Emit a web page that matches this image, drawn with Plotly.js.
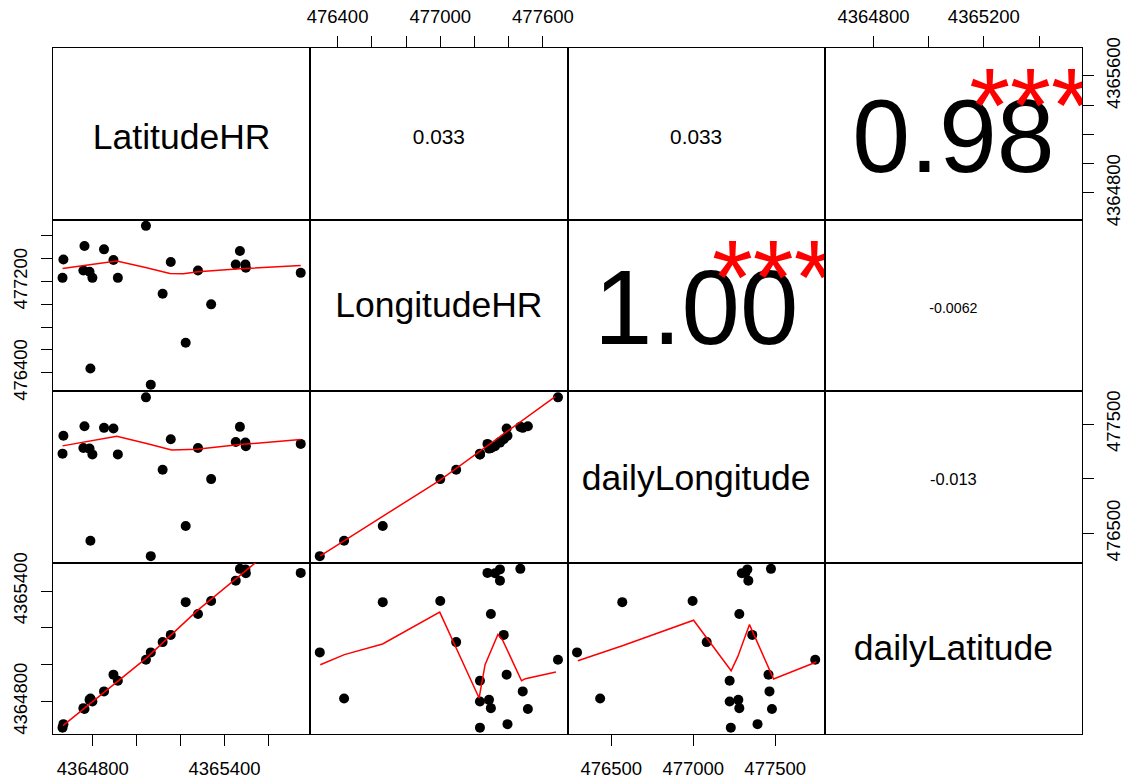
<!DOCTYPE html>
<html>
<head>
<meta charset="utf-8">
<script src="https://cdn.plot.ly/plotly-3.0.1.min.js"></script>
<style>html,body{margin:0;padding:0;background:#fff;}#chart{width:1129px;height:782px;}</style>
</head>
<body>
<div id="chart"></div>
<script>
// ---- data ----
const varNames = ['LatitudeHR', 'LongitudeHR', 'dailyLongitude', 'dailyLatitude'];

const latitudeHR = [4364662, 4364666, 4364757, 4364762, 4364785, 4364789, 4364798, 4364851, 4364894, 4364914, 4365042,
                    4365064, 4365118, 4365155, 4365223, 4365279, 4365339, 4365451, 4365470, 4365495, 4365497, 4365747];
const longitudeHR = [477232, 477393, 477296, 477512, 477285, 476438, 477232, 477482, 477388, 477232, 477688,
                     476296, 477093, 477371, 476664, 477296, 477000, 477349, 477468, 477349, 477320, 477276];
const dailyLongitude = [477229, 477392, 477281, 477480, 477275, 476432, 477222, 477465, 477459, 477222, 477744,
                        476291, 477082, 477360, 476567, 477281, 476996, 477336, 477474, 477330, 477296, 477318];
const dailyLatitude = [4364658, 4364677, 4364764, 4364759, 4364809, 4364816, 4364800, 4364855, 4364946, 4364913, 4365027,
                       4365067, 4365123, 4365162, 4365340, 4365276, 4365346, 4365457, 4365521, 4365518, 4365497, 4365499];

// smoother (red) lines, vertices
const smoothLatHR_LongHR_x = [4364662, 4364909, 4365045, 4365151, 4365212, 4365279, 4365470, 4365747];
const smoothLatHR_LongHR_y = [477314, 477379, 477320, 477270, 477268, 477285, 477311, 477341];
const smoothLatHR_dLong_x = [4364662, 4364909, 4365045, 4365159, 4365273, 4365470, 4365747];
const smoothLatHR_dLong_y = [477300, 477388, 477321, 477263, 477268, 477312, 477358];
const smoothLatHR_dLat_x = [4364664, 4365045, 4365273, 4365542, 4365747];
const smoothLatHR_dLat_y = [4364669, 4365037, 4365291, 4365555, 4365757];
const smoothLongHR_dLong_x = [476299, 476995, 477672];
const smoothLongHR_dLong_y = [476294, 476983, 477750];
const smoothLongHR_dLat_x = [476299, 476440, 476663, 476997, 477227, 477262, 477337, 477366, 477475, 477498, 477676];
const smoothLongHR_dLat_y = [4365000, 4365055, 4365113, 4365286, 4364819, 4365000, 4365164, 4365131, 4364913, 4364924, 4364960];
const smoothDLong_dLat_x = [476296, 476572, 477002, 477231, 477272, 477343, 477490, 477751];
const smoothDLong_dLat_y = [4365022, 4365104, 4365242, 4364967, 4365045, 4365218, 4364922, 4365015];

// correlation panel texts
const corrRows = [0, 0, 0, 1, 1, 2];
const corrCols = [1, 2, 3, 2, 3, 3];
const corrLabels = ['0.033', '0.033', '0.98', '1.00', '-0.0062', '-0.013'];
const corrStars = ['', '', '***', '***', '', ''];

// tick values and labels
const latHRTicks = [4364800, 4365000, 4365200, 4365400, 4365600];
const latHRBottomLabels = ['4364800', '', '', '4365400', ''];
const latHRRightLabels = ['4364800', '', '', '', '4365600'];
const longHRTicks = [476400, 476600, 476800, 477000, 477200, 477400, 477600];
const longHRTopLabels = ['476400', '', '', '477000', '', '', '477600'];
const longHRLeftLabels = ['476400', '', '', '', '477200', '', ''];
const dLongTicks = [476500, 477000, 477500];
const dLongBottomLabels = ['476500', '477000', '477500'];
const dLongRightLabels = ['476500', '', '477500'];
const dLatTicks = [4364800, 4365000, 4365200, 4365400, 4365600];
const dLatTopLabels = ['4364800', '', '4365200', '', ''];
const dLatLeftLabels = ['4364800', '', '', '4365400', ''];

// ---- styles ----
const FONT = 'Liberation Sans, Arial, Helvetica, sans-serif';
const TICKFONT = {family: FONT, size: 18.5, color: '#000'};
const LABEL_SIZE = 35.5;
const LABEL_NUDGE = [6, 3, 4, 3];           // px downward shift of diagonal labels
const CORR_SIZES = [20.8, 20.8, 104, 105, 14.2, 16.5];
const CORR_NUDGE = [5, 5, 12, 12, 4, 4];     // px downward shift of correlation texts
const STAR_SIZE = 105;
const STAR_FX = 0.8, STAR_FY = 0.635, STAR_NUDGE = [5, 6];
const PANEL_H = (782 - 48 - 48) / 4;

const series = [latitudeHR, longitudeHR, dailyLongitude, dailyLatitude];
const ranges = series.map(v => {
  const lo = Math.min(...v), hi = Math.max(...v), d = hi - lo;
  return [lo - 0.04 * d, hi + 0.04 * d];
});
const frac = (k, f) => ranges[k][0] + f * (ranges[k][1] - ranges[k][0]);
const fracY = (k, f, nudgePx) => frac(k, f - nudgePx / PANEL_H);

const smooths = {
  '1-0': [smoothLatHR_LongHR_x, smoothLatHR_LongHR_y],
  '2-0': [smoothLatHR_dLong_x, smoothLatHR_dLong_y],
  '3-0': [smoothLatHR_dLat_x, smoothLatHR_dLat_y],
  '2-1': [smoothLongHR_dLong_x, smoothLongHR_dLong_y],
  '3-1': [smoothLongHR_dLat_x, smoothLongHR_dLat_y],
  '3-2': [smoothDLong_dLat_x, smoothDLong_dLat_y]
};

// which cells carry tick marks / labels
const xTickCfg = {
  '3-0': {side: 'bottom', vals: latHRTicks, text: latHRBottomLabels, standoff: 7},
  '3-2': {side: 'bottom', vals: dLongTicks, text: dLongBottomLabels, standoff: 7},
  '0-1': {side: 'top', vals: longHRTicks, text: longHRTopLabels, standoff: 6},
  '0-3': {side: 'top', vals: dLatTicks, text: dLatTopLabels, standoff: 6}
};
const yTickCfg = {
  '1-0': {side: 'left', vals: longHRTicks, text: longHRLeftLabels, standoff: 7},
  '3-0': {side: 'left', vals: dLatTicks, text: dLatLeftLabels, standoff: 7},
  '0-3': {side: 'right', vals: latHRTicks, text: latHRRightLabels, standoff: 4},
  '2-3': {side: 'right', vals: dLongTicks, text: dLongRightLabels, standoff: 4}
};

const traces = [];
const layout = {
  width: 1129, height: 782,
  margin: {l: 53, r: 47, t: 48, b: 48, pad: 0},
  paper_bgcolor: '#fff', plot_bgcolor: '#fff',
  showlegend: false,
  font: {family: FONT, color: '#000'}
};

for (let r = 0; r < 4; r++) {
  for (let c = 0; c < 4; c++) {
    const idx = r * 4 + c + 1;
    const sx = idx === 1 ? '' : String(idx);
    const xa = 'x' + sx, ya = 'y' + sx;
    const key = r + '-' + c;
    const xAx = {
      domain: [c / 4, (c + 1) / 4], range: ranges[c], anchor: ya,
      showline: true, mirror: true, linecolor: '#000', linewidth: 1,
      showgrid: false, zeroline: false, showticklabels: false, ticks: '', fixedrange: true
    };
    const yAx = {
      domain: [1 - (r + 1) / 4, 1 - r / 4], range: ranges[r], anchor: xa,
      showline: true, mirror: true, linecolor: '#000', linewidth: 1,
      showgrid: false, zeroline: false, showticklabels: false, ticks: '', fixedrange: true
    };
    if (xTickCfg[key]) {
      const t = xTickCfg[key];
      Object.assign(xAx, {side: t.side, tickmode: 'array', tickvals: t.vals, ticktext: t.text,
        ticks: 'outside', ticklen: 11, tickwidth: 1, tickcolor: '#000', showticklabels: true,
        tickfont: TICKFONT, tickangle: 0, ticklabelstandoff: t.standoff});
    }
    if (yTickCfg[key]) {
      const t = yTickCfg[key];
      Object.assign(yAx, {side: t.side, tickmode: 'array', tickvals: t.vals, ticktext: t.text,
        ticks: 'outside', ticklen: 11, tickwidth: 1, tickcolor: '#000', showticklabels: true,
        tickfont: TICKFONT, tickangle: -90, ticklabelstandoff: t.standoff});
    }
    layout['xaxis' + sx] = xAx;
    layout['yaxis' + sx] = yAx;

    if (r > c) {
      traces.push({
        type: 'scatter', mode: 'markers', x: series[c], y: series[r], xaxis: xa, yaxis: ya,
        marker: {color: '#000', size: 10}, hoverinfo: 'skip'
      });
      const s = smooths[key];
      if (s) {
        traces.push({
          type: 'scatter', mode: 'lines', x: s[0], y: s[1], xaxis: xa, yaxis: ya,
          line: {color: '#ff0000', width: 1.5}, hoverinfo: 'skip'
        });
      }
    } else if (r === c) {
      traces.push({
        type: 'scatter', mode: 'text', x: [frac(c, 0.5)], y: [fracY(r, 0.5, LABEL_NUDGE[r])], xaxis: xa, yaxis: ya,
        text: [varNames[r]], textposition: 'middle center',
        textfont: {family: FONT, size: LABEL_SIZE, color: '#000'}, hoverinfo: 'skip', cliponaxis: true
      });
    }
  }
}

let starCount = 0;
for (let i = 0; i < corrLabels.length; i++) {
  const r = corrRows[i], c = corrCols[i];
  const idx = r * 4 + c + 1;
  const xa = 'x' + idx, ya = 'y' + idx;
  traces.push({
    type: 'scatter', mode: 'text', x: [frac(c, 0.5)], y: [fracY(r, 0.5, CORR_NUDGE[i])], xaxis: xa, yaxis: ya,
    text: [corrLabels[i]], textposition: 'middle center',
    textfont: {family: FONT, size: CORR_SIZES[i], color: '#000'}, hoverinfo: 'skip', cliponaxis: true
  });
  if (corrStars[i]) {
    traces.push({
      type: 'scatter', mode: 'text', x: [frac(c, STAR_FX)], y: [fracY(r, STAR_FY, STAR_NUDGE[starCount++])],
      xaxis: xa, yaxis: ya,
      text: [corrStars[i]], textposition: 'middle center',
      textfont: {family: FONT, size: STAR_SIZE, color: '#ff0000'}, hoverinfo: 'skip', cliponaxis: true
    });
  }
}

Plotly.newPlot('chart', traces, layout, {displayModeBar: false, staticPlot: true});
</script>
</body>
</html>
